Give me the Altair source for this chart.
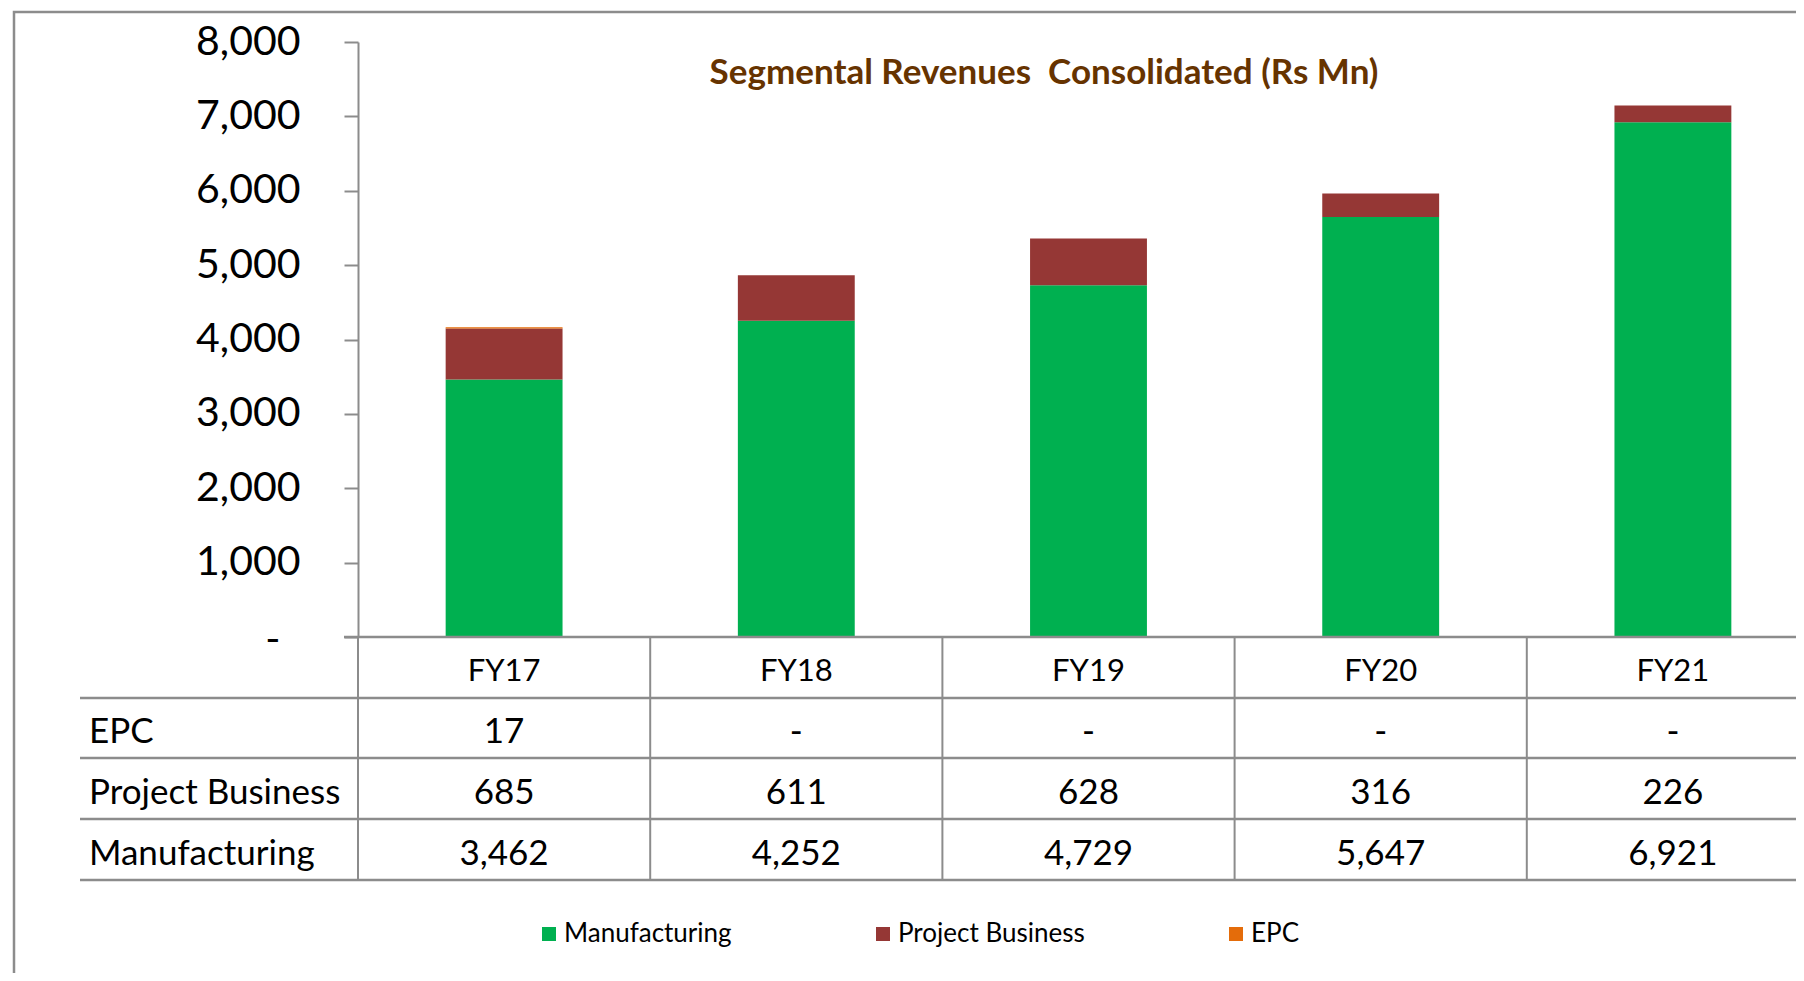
import altair as alt
import pandas as pd

# ---------------- data ----------------
years = ["FY17", "FY18", "FY19", "FY20", "FY21"]
manufacturing = [3462, 4252, 4729, 5647, 6921]
project_business = [685, 611, 628, 316, 226]
epc = [17, 0, 0, 0, 0]
series_names = ["Manufacturing", "Project Business", "EPC"]
series_colors = ["#00B050", "#953735", "#E46C0A"]
table_rows = ["EPC", "Project Business", "Manufacturing"]
y_ticks = [0, 1000, 2000, 3000, 4000, 5000, 6000, 7000, 8000]
title_text = "Segmental Revenues \u00a0Consolidated (Rs Mn)"

records = []
for i, yr in enumerate(years):
    for k, (name, vals) in enumerate(zip(series_names, [manufacturing, project_business, epc])):
        records.append({"year": yr, "series": name, "value": vals[i], "ord": k})
df = pd.DataFrame(records)
df["label"] = df["value"].map(lambda v: f"{v:,}" if v else "-")

# ---------------- layout ----------------
FONT = "Lato"
GRID = "#8c8c8c"
PLOT_W = 1438
PLOT_H = 595
X_RANGE = 1461
PAD_L, PAD_T = 350, 34
TOTAL_H = 965

xscale = alt.Scale(domain=years, range=[0, X_RANGE], paddingInner=0, paddingOuter=0)
X = alt.X("year:N", scale=xscale, axis=None)

one = pd.DataFrame({"a": [0]})

frame = alt.Chart(one).mark_rect(filled=False, stroke=GRID, strokeWidth=2.5).encode(
    x=alt.value(-344), x2=alt.value(2200), y=alt.value(-30), y2=alt.value(1300)
)

bars = alt.Chart(df).mark_bar(width=alt.RelativeBandSize(0.4)).encode(
    x=X,
    y=alt.Y(
        "value:Q",
        stack="zero",
        scale=alt.Scale(domain=[0, 8000], nice=False),
        axis=alt.Axis(
            values=y_ticks,
            labelExpr="datum.value == 0 ? '-' : format(datum.value, ',')",
            labelFont=FONT,
            labelFontSize=41,
            labelColor="black",
            tickSize=14,
            tickColor=GRID,
            tickWidth=2,
            domainColor=GRID,
            domainWidth=2,
            labelPadding={"condition": {"test": "datum.value == 0", "value": 64}, "value": 44},
            labelOffset={"condition": {"test": "datum.value == 0", "value": 3}, "value": 0},
            grid=False,
            title=None,
        ),
    ),
    color=alt.Color(
        "series:N",
        scale=alt.Scale(domain=series_names, range=series_colors),
        legend=alt.Legend(
            orient="none",
            legendX=178,
            legendY=879,
            direction="horizontal",
            title=None,
            symbolType="square",
            symbolSize=196,
            symbolStrokeWidth=0,
            symbolOpacity=1,
            labelFont=FONT,
            labelFontSize=26,
            labelColor="black",
            labelLimit=500,
            columnPadding=138,
            labelOffset=2,
            padding=0,
            gridAlign="none",
        ),
    ),
    order=alt.Order("ord:Q", sort="ascending"),
)

title = alt.Chart(one).mark_text(
    font=FONT, fontSize=35, fontWeight="bold", color="#663300", align="center", baseline="alphabetic"
).encode(x=alt.value(686), y=alt.value(42), text=alt.value(title_text))

layers = [frame, bars, title]
# vertical boundaries (band starts)
vlines = alt.Chart(pd.DataFrame({"year": years})).mark_rule(color=GRID, strokeWidth=2).encode(
    x=alt.X("year:N", scale=xscale, axis=None, bandPosition=0),
    y=alt.value(PLOT_H),
    y2=alt.value(838),
)
layers.append(vlines)
# x axis line
layers.append(
    alt.Chart(one).mark_rule(color=GRID, strokeWidth=2.5).encode(
        x=alt.value(-14), x2=alt.value(X_RANGE), y=alt.value(PLOT_H)
    )
)
for yy in [656, 716, 777, 838]:
    layers.append(
        alt.Chart(one).mark_rule(color=GRID, strokeWidth=2.5).encode(
            x=alt.value(-278), x2=alt.value(X_RANGE), y=alt.value(yy)
        )
    )

# header
layers.append(
    alt.Chart(pd.DataFrame({"year": years})).mark_text(
        font=FONT, fontSize=31, baseline="middle", align="center", color="black"
    ).encode(x=X, y=alt.value(630), text="year:N")
)

row_y = {"EPC": 690, "Project Business": 751, "Manufacturing": 812}
labels_df = pd.DataFrame({"row": table_rows})
for name in table_rows:
    layers.append(
        alt.Chart(labels_df).transform_filter(alt.datum.row == name).mark_text(
            font=FONT, fontSize=35, baseline="middle", align="left", color="black"
        ).encode(x=alt.value(-269), y=alt.value(row_y[name]), text="row:N")
    )
    layers.append(
        alt.Chart(df).transform_filter(alt.datum.series == name).mark_text(
            font=FONT, fontSize=35, baseline="middle", align="center", color="black"
        ).encode(x=X, y=alt.value(row_y[name]), text="label:N")
    )

chart = alt.layer(*layers).properties(
    width=PLOT_W,
    height=PLOT_H,
    autosize=alt.AutoSizeParams(type="none"),
    padding={"left": PAD_L, "top": PAD_T, "right": 0, "bottom": TOTAL_H - PAD_T - PLOT_H},
    background="white",
).configure_view(strokeWidth=0)

chart.save("out.html", embed_options={"renderer": "svg", "actions": False})
